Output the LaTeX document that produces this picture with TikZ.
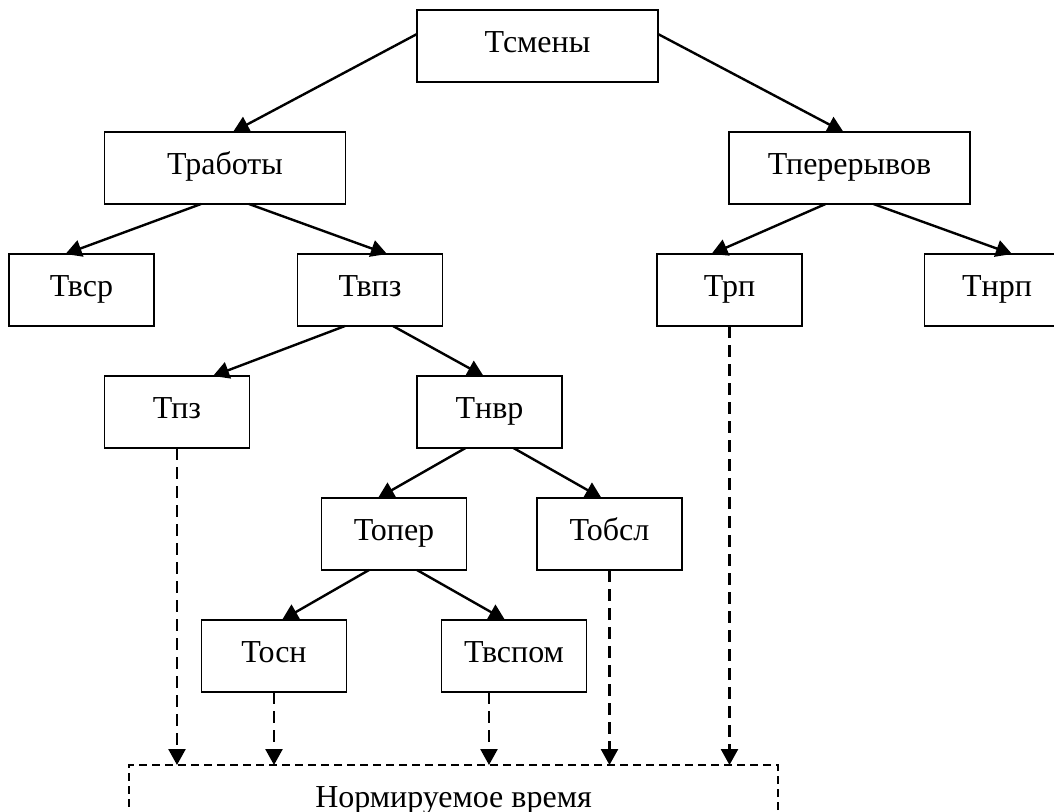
\documentclass[tikz,border=0pt]{standalone}
\usepackage{fontspec}
\setmainfont{Liberation Serif}
\usetikzlibrary{positioning,arrows.meta}

\begin{document}
\begin{tikzpicture}[
    node distance=25pt,
 mynode/.style = {
        draw, rectangle, line width=0.8pt, align=center,
        minimum width=72.5pt, minimum height=36pt,
        text height=11pt, text depth=5pt,
        font=\fontsize{16}{19}\selectfont, inner sep=0pt, outer sep=0pt},
 mywide/.style = {mynode, minimum width=120.5pt},
mytotal/.style = {mynode, dash pattern=on 4pt off 2.5pt,
        minimum width=324.5pt},
   arrow/.style = {line width=1.2pt,-{Triangle[length=8pt,width=8.5pt]}},
  darrow/.style = {arrow, dash pattern=on 6pt off 3.5pt}
                    ]
\path[use as bounding box] (-268.75pt,23pt) rectangle (258.25pt,-382.5pt);
% the node at the top
\node (smena)   [mywide]                                {Тсмены};
% second row
\node (rabot)   [mywide, below=of smena, xshift=-156.25pt] {Тработы};
\node (pereryv) [mywide, below=of smena, xshift=156pt]     {Тперерывов};
% third row
\node (vsr)  [mynode, below=of rabot,   xshift=-71.75pt] {Твср};
\node (vpz)  [mynode, below=of rabot,   xshift=72.5pt]   {Твпз};
\node (rp)   [mynode, below=of pereryv, xshift=-60pt]    {Трп};
\node (nrp)  [mynode, below=of pereryv, xshift=73.75pt]  {Тнрп};
% the branch under Tvpz
\node (pz)    [mynode, below=of vpz,  xshift=-96.5pt]  {Тпз};
\node (nvr)   [mynode, below=of vpz,  xshift=59.75pt]  {Тнвр};
\node (oper)  [mynode, below=of nvr,  xshift=-47.75pt] {Топер};
\node (obsl)  [mynode, below=of nvr,  xshift=60pt]     {Тобсл};
\node (osn)   [mynode, below=of oper, xshift=-60pt]    {Тосн};
\node (vspom) [mynode, below=of oper, xshift=60pt]     {Твспом};
% the sum at the bottom
\node (norm)  [mytotal, below=36.5pt of osn, xshift=89.75pt] {Нормируемое время};
% the tree
\draw[arrow] ([yshift=6pt]smena.west) -- ([xshift=4pt]rabot.north);
\draw[arrow] ([yshift=6pt]smena.east) -- ([xshift=-3pt]pereryv.north);
\draw[arrow] ([xshift=-12pt]rabot.south) -- ([xshift=-8pt]vsr.north);
\draw[arrow] ([xshift=12pt]rabot.south)  -- ([xshift=8.5pt]vpz.north);
\draw[arrow] ([xshift=-12pt]pereryv.south) -- ([xshift=-9pt]rp.north);
\draw[arrow] ([xshift=12pt]pereryv.south)  -- ([xshift=7.5pt]nrp.north);
\draw[arrow] ([xshift=-12.5pt]vpz.south) -- ([xshift=18pt]pz.north);
\draw[arrow] ([xshift=11.5pt]vpz.south)  -- ([xshift=-3pt]nvr.north);
\draw[arrow] ([xshift=-12pt]nvr.south) -- ([xshift=-8pt]oper.north);
\draw[arrow] ([xshift=12pt]nvr.south)  -- ([xshift=-4pt]obsl.north);
\draw[arrow] ([xshift=-12.5pt]oper.south) -- ([xshift=4pt]osn.north);
\draw[arrow] ([xshift=11.5pt]oper.south)  -- ([xshift=-4.5pt]vspom.north);
% dashed lines into the sum
\draw[darrow] (pz.south)   -- (pz.south |- norm.north);
\draw[darrow] (osn.south)  -- (osn.south |- norm.north);
\draw[darrow] ([xshift=-12.5pt]vspom.south) coordinate (v)
                           -- (v |- norm.north);
\draw[darrow] (obsl.south) -- (obsl.south |- norm.north);
\draw[darrow] (rp.south)   -- (rp.south |- norm.north);
\end{tikzpicture}
\end{document}
